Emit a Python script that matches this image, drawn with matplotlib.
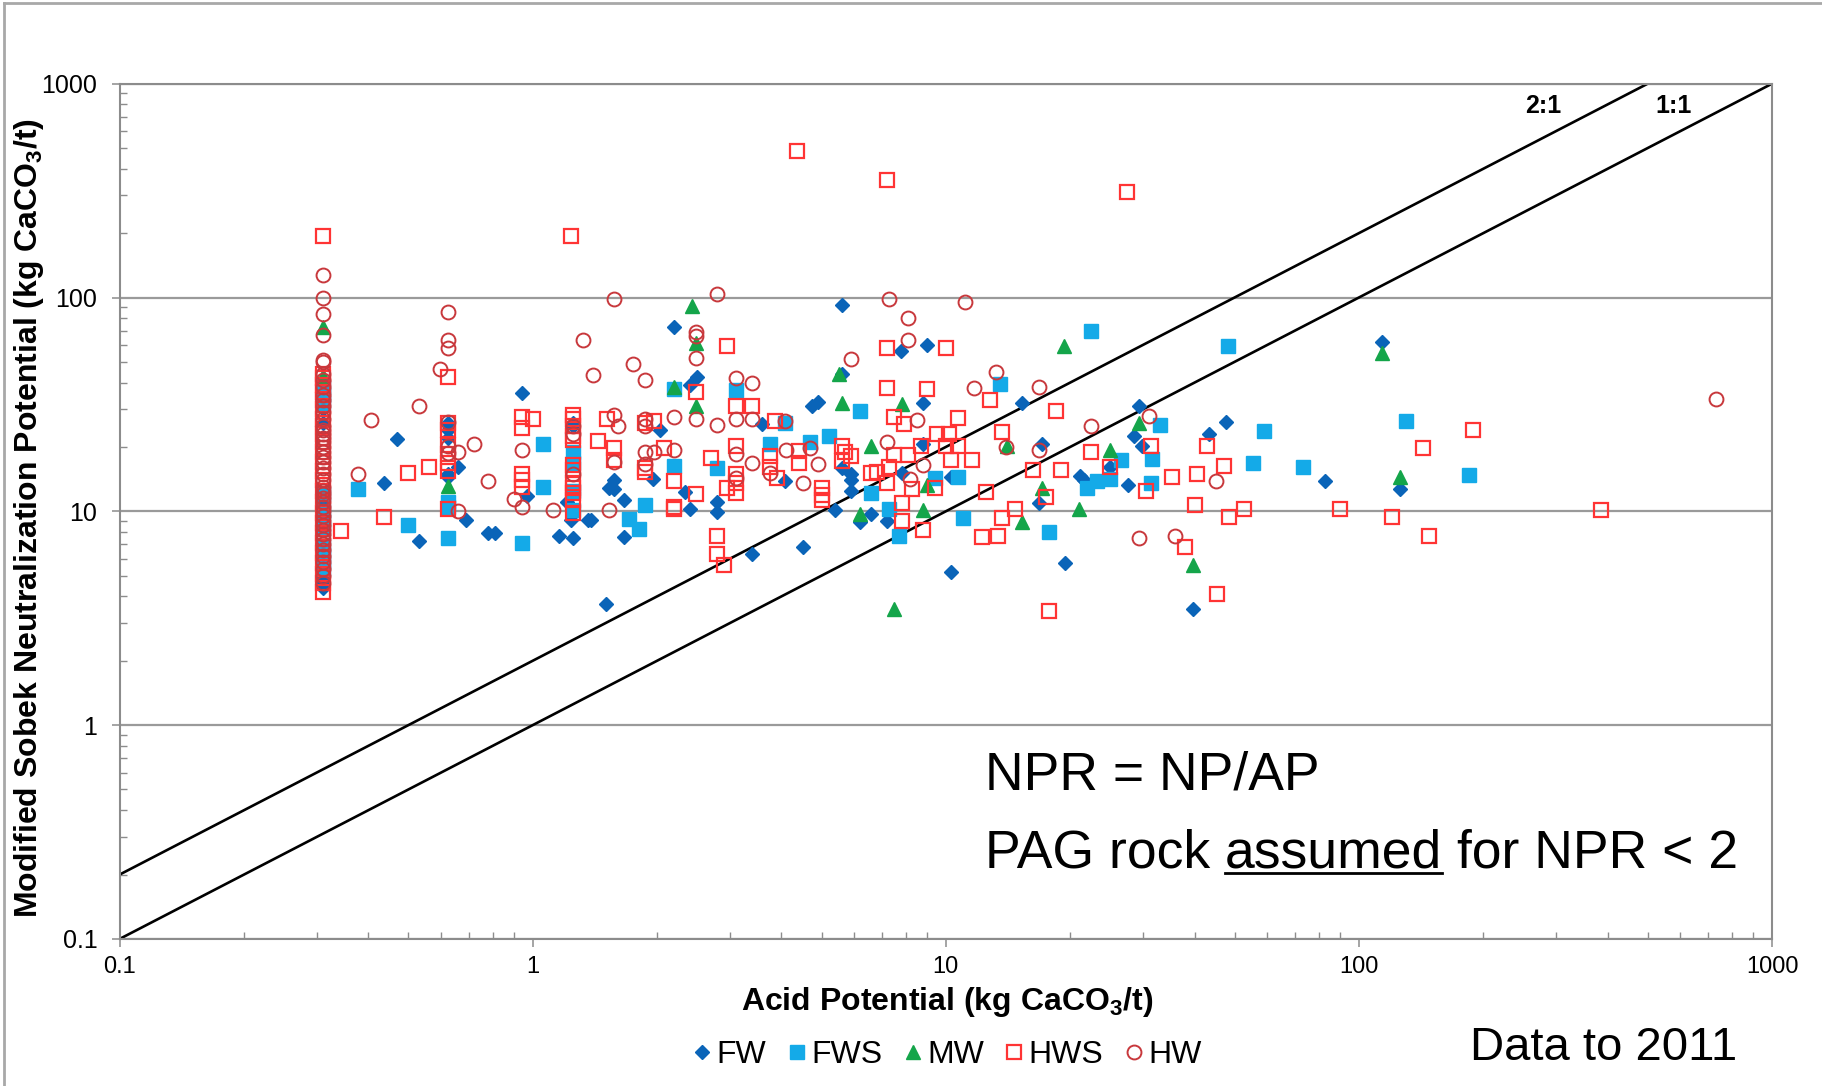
import matplotlib
matplotlib.use('Agg')
import matplotlib.pyplot as plt
from matplotlib.lines import Line2D
from matplotlib.ticker import LogLocator, NullFormatter, FixedLocator, FixedFormatter
from matplotlib.font_manager import FontProperties

plt.rcParams['font.family'] = ['Liberation Sans', 'DejaVu Sans']
plt.rcParams['mathtext.fontset'] = 'custom'
plt.rcParams['mathtext.rm'] = 'Liberation Sans'
plt.rcParams['mathtext.bf'] = 'Liberation Sans:bold'
plt.rcParams['mathtext.default'] = 'bf'

# ---------------- data ----------------
col1_x = 0.31      # samples at AP detection limit

fw_col_y = [40, 36, 30, 26, 11, 8.7, 4.9, 4.6, 4.4]
fw_x = [0.469, 0.437, 0.53, 0.66, 0.69, 0.78, 0.81, 0.94, 0.97, 1.16, 1.25, 1.36,
        0.625, 0.625, 0.625, 0.625, 0.625, 1.25, 1.25, 1.21, 1.24,
        2.2, 2.5, 2.4, 4.9, 4.75, 2.03, 3.58, 1.96, 1.57, 1.53, 1.57, 1.66, 1.38, 1.66,
        2.33, 2.4, 2.8, 2.8, 1.5, 3.4, 4.5, 5.4, 4.07,
        5.6, 5.6, 7.8, 9.0, 8.8, 15.3, 8.8, 5.6, 5.9, 5.9, 5.9, 7.85, 10.3, 17.1, 16.8,
        21.1, 21.6, 6.6, 6.2, 7.2, 10.3, 19.4,
        29.3, 47.7, 28.5, 43.3, 29.8, 25, 82.6, 27.6, 39.6, 114, 126]
fw_y = [21.9, 13.5, 7.3, 16.1, 9.1, 7.9, 7.9, 35.9, 11.8, 7.7, 7.5, 9.1,
        25.9, 24, 22, 15, 14.5, 26, 25, 11.1, 9.1,
        73, 42.6, 39, 32.5, 31, 24, 25.6, 14.2, 14, 12.9, 12.7, 11.3, 9.1, 7.6,
        12.3, 10.3, 11.1, 9.9, 3.7, 6.3, 6.8, 10.1, 13.9,
        92, 44, 56, 60.2, 32, 32.2, 20.6, 15.9, 15, 14.0, 12.4, 15.1, 14.4, 20.6, 10.9,
        14.6, 14.0, 9.7, 8.9, 9.0, 5.2, 5.7,
        31, 26.2, 22.4, 22.9, 20.3, 16.1, 13.9, 13.3, 3.5, 62, 12.7]

fws_col_y = [38, 35, 32, 12, 10, 9, 8.3, 6.8, 6.3, 5.8, 5.4]
fws_x = [0.377, 0.50, 0.625, 0.625, 0.625, 0.94, 1.06, 1.06,
         1.25, 1.25, 1.25, 1.25,
         2.2, 3.1, 4.07, 1.87, 1.71, 1.81, 2.2, 2.8, 3.75, 4.7, 5.2, 6.2, 13.5,
         6.6, 9.4, 10.7, 22, 7.3, 7.7, 11, 17.8, 22.5, 48.3, 33, 59, 26.6, 31.6,
         55.3, 73.3, 23.2, 25, 31.3, 130, 185]
fws_y = [12.7, 8.6, 7.5, 11.1, 10.5, 7.1, 20.6, 13.0,
         19, 16.8, 12.5, 10.1,
         37.2, 37, 26, 10.7, 9.2, 8.3, 16.3, 15.9, 20.7, 21.2, 22.6, 29.5, 39.4,
         12.2, 14.3, 14.4, 12.8, 10.2, 7.7, 9.3, 8.0, 70, 59, 25.3, 23.7, 17.3, 17.6,
         16.9, 16.1, 13.9, 14.1, 13.5, 26.4, 14.8]

mw_x = [0.31, 0.31, 0.625, 2.43, 2.49, 2.2, 2.49, 5.5, 5.6, 7.85, 6.6, 9.0, 17.1, 14.1,
        21, 6.2, 8.8, 7.5, 15.3, 19.3, 29.3, 25, 39.6, 114, 126]
mw_y = [73, 43, 13.1, 91, 61.2, 38, 31, 44, 32.2, 31.8, 20.1, 13.3, 12.8, 20.3,
        10.3, 9.7, 10.1, 3.5, 8.9, 59, 25.8, 19.3, 5.6, 55.3, 14.4]

hws_col_y = [193, 44, 42, 39, 36, 33, 30, 27, 25, 23, 21, 19, 17, 15.5, 14, 12.5, 11,
             9.8, 8.8, 7.9, 7.1, 6.4, 5.7, 5.1, 4.6, 4.2]
hws_x = [0.343, 0.437, 0.50, 0.56, 0.625, 0.625, 0.625, 0.625, 0.625, 0.625, 0.625, 0.625,
         0.94, 1.0, 0.94, 0.94, 0.94, 0.94,
         1.25, 1.25, 1.25, 1.25, 1.25, 1.25, 1.25, 1.25, 1.25, 1.25, 1.25, 1.25,
         1.24, 1.51, 1.87, 1.97, 1.44, 1.57, 1.57, 2.08, 1.87, 1.87, 2.2, 2.2, 2.2,
         2.49, 2.49, 2.96, 2.7, 2.96, 3.1, 3.4, 3.1, 3.1, 3.1, 3.1, 2.8, 2.8, 2.9,
         3.85, 3.75, 3.75, 3.9, 5.0, 5.0, 5.0, 4.4, 4.4,
         4.37, 7.2, 27.5, 7.2, 10.0, 7.2, 9.0, 12.8, 18.5, 7.5, 7.9, 10.7,
         5.6, 5.7, 5.9, 5.6, 9.5, 10.2, 8.7, 10, 10.7, 7.5, 8.1, 10.3, 11.6,
         6.6, 6.8, 7.3, 7.2, 8.3, 9.4, 12.5, 17.5, 13.7, 16.3, 19,
         7.85, 7.85, 8.8, 13.7, 14.7, 12.2, 13.4, 17.8, 22.4, 31.3, 42.9, 25, 47.1,
         35.3, 40.6, 30.5, 40, 48.6, 52.7, 90, 37.9, 45.4, 189, 143, 120, 148, 385]
hws_y = [8.1, 9.4, 15.1, 16.1, 42.6, 26, 24, 20.5, 18.5, 16.8, 15.5, 10.3,
         27.7, 26.9, 24.4, 15, 14, 13,
         28.1, 26.9, 25, 22.5, 21.6, 16.5, 15.6, 13.5, 12.8, 12.2, 11.3, 9.8,
         194, 26.9, 26, 26.5, 21.3, 19.8, 17.3, 19.8, 15.9, 15.2, 13.9, 10.5, 10.2,
         36, 12.0, 59, 17.7, 12.8, 31, 31, 20.1, 15, 13.5, 12.2, 7.7, 6.3, 5.6,
         26.5, 18.1, 16.2, 14.3, 12.8, 11.9, 11.3, 19.2, 16.8,
         484, 354, 312, 57.9, 57.9, 37.6, 37.3, 33, 29.3, 27.7, 25.6, 27.3,
         20.3, 19, 18.1, 17.2, 23, 23, 20.3, 20.1, 20.1, 18.3, 18.3, 17.4, 17.4,
         15.1, 15.3, 16.2, 13.5, 12.7, 12.9, 12.3, 11.7, 23.4, 15.6, 15.6,
         10.9, 9.0, 8.2, 9.3, 10.2, 7.6, 7.7, 3.4, 19, 20.3, 20.3, 16.1, 16.3,
         14.4, 15, 12.4, 10.7, 9.4, 10.3, 10.3, 6.8, 4.1, 24.1, 19.8, 9.4, 7.7, 10.1]

hw_col_y = [127, 99, 84, 67, 51, 50, 44, 41, 38, 35, 33, 31, 29, 27, 25, 24, 23, 22, 21,
            20, 19, 18, 17, 16, 15, 14, 13, 12.5, 12, 11.5, 11, 10.5, 10, 9.5, 9, 8.6,
            8.2, 7.8, 7.4, 7, 6.6, 6.2, 5.8, 5.4, 5, 4.6]
hw_x = [0.625, 0.625, 0.625, 0.596, 0.53, 0.405, 0.66, 0.72, 0.377, 0.66, 0.78, 0.94,
        0.9, 0.94, 1.12, 1.32, 0.625, 0.625, 0.625, 1.25, 1.25, 1.25,
        1.57, 2.8, 2.49, 2.49, 2.49, 1.75, 1.40, 1.87, 3.1, 3.4, 1.57, 1.61, 1.87, 1.87,
        2.2, 2.49, 2.8, 3.1, 3.4, 4.07, 1.57, 1.87, 1.97, 2.2, 1.87, 1.53, 3.1, 3.1,
        3.4, 3.75, 4.5, 4.1, 4.9, 4.7,
        7.3, 11.1, 8.1, 8.1, 5.9, 11.7, 13.2, 16.8, 8.5, 7.2, 8.8, 8.2, 16.8, 14,
        22.4, 31, 45.2, 29.3, 35.8, 730]
hw_y = [86, 63.3, 57.8, 46.1, 31.1, 26.7, 19, 20.6, 14.9, 10, 13.9, 19.3,
        11.4, 10.5, 10.1, 63.3, 26.2, 20.1, 18.8, 25, 23, 15,
        98, 104, 69.2, 66, 52.4, 48.7, 43.3, 41.2, 41.9, 39.9, 28.1, 25, 27, 25,
        27.7, 27, 25.3, 27, 27, 26.5, 17, 18.9, 18.9, 19.3, 16.6, 10.1, 18.5, 14.3,
        16.9, 15.1, 13.5, 19.3, 16.7, 19.7,
        98.5, 95, 80, 63.3, 51.5, 37.6, 44.9, 38.1, 26.7, 21.2, 16.5, 14.1, 19.3, 19.9,
        25, 28, 13.9, 7.5, 7.7, 33.5]

ratio_x = [0.1, 1000]
ratios = {'1:1': 1.0, '2:1': 2.0}

x_ticks = [0.1, 1, 10, 100, 1000]
x_ticklabels = ['0.1', '1', '10', '100', '1000']
y_ticks = [0.1, 1, 10, 100, 1000]
y_ticklabels = ['0.1', '1', '10', '100', '1000']

# ---------------- figure ----------------
W, H = 1822, 1086
fig = plt.figure(figsize=(W / 100, H / 100), dpi=100)
ax = fig.add_axes([119.7 / W, 1 - 938.9 / H, (1772 - 119.7) / W, (938.9 - 83.7) / H])
ax.set_xscale('log')
ax.set_yscale('log')
ax.set_xlim(0.1, 1000)
ax.set_ylim(0.1, 1000)
ax.set_axisbelow(True)

gray = '#8C8C8C'
ax.yaxis.grid(True, which='major', color='#9A9A9A', lw=1.6)
for s in ax.spines.values():
    s.set_color(gray)
    s.set_linewidth(1.5)

ax.xaxis.set_major_locator(FixedLocator(x_ticks))
ax.xaxis.set_major_formatter(FixedFormatter(x_ticklabels))
ax.yaxis.set_major_locator(FixedLocator(y_ticks))
ax.yaxis.set_major_formatter(FixedFormatter(y_ticklabels))
for a in (ax.xaxis, ax.yaxis):
    a.set_minor_locator(LogLocator(base=10, subs=[2, 3, 4, 5, 6, 7, 8, 9], numticks=20))
    a.set_minor_formatter(NullFormatter())
ax.tick_params(which='major', direction='out', length=6, width=1.1, color=gray)
ax.tick_params(which='minor', direction='in', length=5, width=1.0, color=gray)
ax.tick_params(axis='x', which='major', pad=6, labelsize=17)
ax.tick_params(axis='y', which='major', pad=10, labelsize=18)

# ratio lines
for lbl, r in ratios.items():
    ax.plot(ratio_x, [r * v for v in ratio_x], color='black', lw=1.9, zorder=2)

# series
h_fw, = ax.plot(fw_x + [col1_x] * len(fw_col_y), fw_y + fw_col_y, ls='none', marker='D',
                ms=7.3, color='#0A64B8', mec='#0A64B8', label='FW', zorder=3)
h_fws, = ax.plot(fws_x + [col1_x] * len(fws_col_y), fws_y + fws_col_y, ls='none', marker='s',
                 ms=9.5, color='#14AAE8', mec='#14AAE8', label='FWS', zorder=3)
h_mw, = ax.plot(mw_x, mw_y, ls='none', marker='^', ms=10, color='#14A54A', mec='#14A54A',
                label='MW', zorder=3)
h_hws, = ax.plot(hws_x + [col1_x] * len(hws_col_y), hws_y + hws_col_y, ls='none', marker='s',
                 ms=9.5, mfc='none', mec='#FF3434', mew=1.6, label='HWS', zorder=3)
h_hw, = ax.plot(hw_x + [col1_x] * len(hw_col_y), hw_y + hw_col_y, ls='none', marker='o',
                ms=10, mfc='none', mec='#C8383C', mew=1.4, label='HW', zorder=3)

# ratio labels
ax.text(0.8614, 0.974, '2:1', transform=ax.transAxes, ha='center', va='center',
        fontsize=18, fontweight='bold')
ax.text(0.9407, 0.974, '1:1', transform=ax.transAxes, ha='center', va='center',
        fontsize=18, fontweight='bold')

# axis labels
fig.text(947 / W, 1 - 1002 / H, 'Acid Potential (kg CaCO$_3$/t)', ha='center', va='center',
         fontsize=23, fontweight='bold')
fig.text(29 / W, 1 - 518 / H, 'Modified Sobek Neutralization Potential (kg CaCO$_3$/t)',
         ha='center', va='center', rotation=90, fontsize=23, fontweight='bold')

# annotations
fs = 38.5
fig.text(985 / W, 1 - 790 / H, 'NPR = NP/AP', ha='left', va='baseline', fontsize=fs)
t1 = fig.text(985 / W, 1 - 867 / H, 'PAG rock', ha='left', va='baseline', fontsize=fs)
sp = 0.278 * fs
t2 = ax.annotate('assumed', xy=(1, 0), xycoords=t1, xytext=(sp, 0), textcoords='offset points',
                 ha='left', va='bottom', fontsize=fs, annotation_clip=False)
t3 = ax.annotate('for NPR < 2', xy=(1, 0), xycoords=t2, xytext=(sp, 0), textcoords='offset points',
                 ha='left', va='bottom', fontsize=fs, annotation_clip=False)

fig.text(1737 / W, 1 - 1060 / H, 'Data to 2011', ha='right', va='baseline', fontsize=34)

# legend
fig.legend(handles=[h_fw, h_fws, h_mw, h_hws, h_hw], loc='center',
           bbox_to_anchor=(948 / W, 1 - 1055 / H), ncol=5, frameon=False, fontsize=23,
           handlelength=0.5, handletextpad=0.2, columnspacing=0.7, borderaxespad=0)

# outer frame lines
fig.add_artist(Line2D([4 / W, 4 / W], [0, 1 - 3 / H], transform=fig.transFigure,
                      color='#A8A8A8', lw=2))
fig.add_artist(Line2D([4 / W, 1], [1 - 3 / H, 1 - 3 / H], transform=fig.transFigure,
                      color='#A8A8A8', lw=2))

# underline "assumed"
fig.canvas.draw()
r = fig.canvas.get_renderer()
bb = t2.get_window_extent(r)
fp = FontProperties(family=['Liberation Sans'], size=fs)
_, _, d = r.get_text_width_height_descent('lp', fp, ismath=False)
yline = bb.y0 + d - 6
fig.add_artist(Line2D([bb.x0 / W, bb.x1 / W], [yline / H, yline / H], transform=fig.transFigure,
                      color='black', lw=2))

fig.savefig('out.png', dpi=100)
